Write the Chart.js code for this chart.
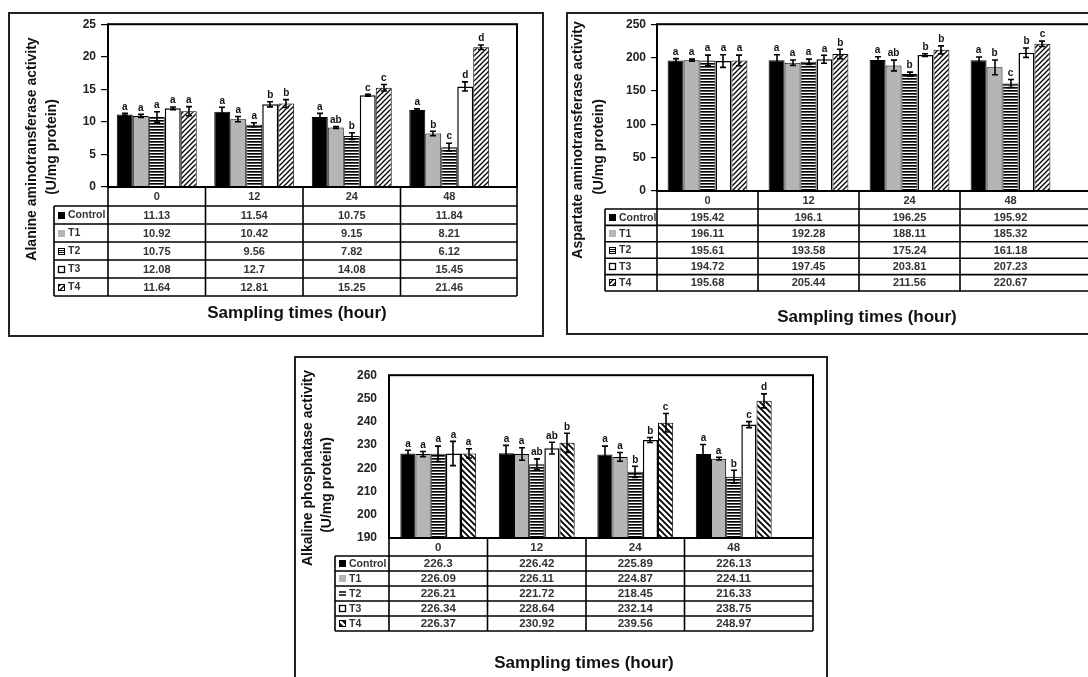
<!DOCTYPE html>
<html>
<head>
<meta charset="utf-8">
<title>Enzyme activity by sampling time</title>
<script src="https://cdn.jsdelivr.net/npm/chart.js@4.4.1/dist/chart.umd.min.js"></script>
<style>
	html, body { margin: 0; padding: 0; background: #fff; }
	body { position: relative; width: 1088px; height: 677px; overflow: hidden; }
	canvas { position: absolute; }
</style>
</head>
<body>
<canvas id="alt"></canvas>
<canvas id="ast"></canvas>
<canvas id="alp"></canvas>
<script>
// categories
var times = ['0', '12', '24', '48'];
var groups = ['Control', 'T1', 'T2', 'T3', 'T4'];

// Alanine aminotransferase activity (U/mg protein)
var altControl = [11.13, 11.54, 10.75, 11.84];
var altT1 = [10.92, 10.42, 9.15, 8.21];
var altT2 = [10.75, 9.56, 7.82, 6.12];
var altT3 = [12.08, 12.7, 14.08, 15.45];
var altT4 = [11.64, 12.81, 15.25, 21.46];
// one row per group, one value per sampling time
var altErr = [[0.17, 0.7, 0.55, 0.15], [0.23, 0.4, 0.15, 0.35], [0.8, 0.3, 0.5, 0.6], [0.2, 0.4, 0.15, 0.7], [0.7, 0.6, 0.5, 0.35]];
var altLetters = [['a', 'a', 'a', 'a'], ['a', 'a', 'ab', 'b'], ['a', 'a', 'b', 'c'], ['a', 'b', 'c', 'd'], ['a', 'b', 'c', 'd']];
var altTicks = [0, 5, 10, 15, 20, 25];

// Aspartate aminotransferase activity (U/mg protein)
var astControl = [195.42, 196.1, 196.25, 195.92];
var astT1 = [196.11, 192.28, 188.11, 185.32];
var astT2 = [195.61, 193.58, 175.24, 161.18];
var astT3 = [194.72, 197.45, 203.81, 207.23];
var astT4 = [195.68, 205.44, 211.56, 220.67];
var astErr = [[3, 8, 5, 5], [1.5, 4, 8, 11], [8, 4, 3, 6], [9.5, 6, 2, 7], [8, 7, 6, 4]];
var astLetters = [['a', 'a', 'a', 'a'], ['a', 'a', 'ab', 'b'], ['a', 'a', 'b', 'c'], ['a', 'a', 'b', 'b'], ['a', 'b', 'b', 'c']];
var astTicks = [0, 50, 100, 150, 200, 250];

// Alkaline phosphatase activity (U/mg protein)
var alpControl = [226.3, 226.42, 225.89, 226.13];
var alpT1 = [226.09, 226.11, 224.87, 224.11];
var alpT2 = [226.21, 221.72, 218.45, 216.33];
var alpT3 = [226.34, 228.64, 232.14, 238.75];
var alpT4 = [226.37, 230.92, 239.56, 248.97];
var alpErr = [[1.4, 3.4, 3.6, 4.1], [1.1, 2.7, 1.9, 0.6], [3.3, 2.3, 2.4, 2.8], [5.2, 2.5, 1.1, 1.3], [2, 4.1, 4, 3]];
var alpLetters = [['a', 'a', 'a', 'a'], ['a', 'a', 'a', 'a'], ['a', 'ab', 'b', 'b'], ['a', 'ab', 'b', 'c'], ['a', 'b', 'c', 'd']];
var alpTicks = [190, 200, 210, 220, 230, 240, 250, 260];

var FONT = '"Liberation Sans", Arial, sans-serif';

function stripes() {
	var c = document.createElement('canvas');
	c.width = 4; c.height = 3;
	var g = c.getContext('2d');
	g.fillStyle = '#fff'; g.fillRect(0, 0, 4, 3);
	g.fillStyle = '#000'; g.fillRect(0, 0, 4, 1);
	g.fillStyle = '#555'; g.fillRect(0, 1, 4, 1);
	return g.createPattern(c, 'repeat');
}

function hatch(dir, size, lw) {
	var c = document.createElement('canvas');
	c.width = size; c.height = size;
	var g = c.getContext('2d');
	g.fillStyle = '#fff'; g.fillRect(0, 0, size, size);
	g.strokeStyle = '#000'; g.lineWidth = lw;
	g.beginPath();
	if (dir == '/') {
		g.moveTo(-1, size + 1); g.lineTo(size + 1, -1);
		g.moveTo(-1, 1); g.lineTo(1, -1);
		g.moveTo(size - 1, size + 1); g.lineTo(size + 1, size - 1);
	} else {
		g.moveTo(-1, -1); g.lineTo(size + 1, size + 1);
		g.moveTo(size - 1, -1); g.lineTo(size + 1, 1);
		g.moveTo(-1, size - 1); g.lineTo(1, size + 1);
	}
	g.stroke();
	return g.createPattern(c, 'repeat');
}

function drawGlyph(ctx, kind, x, y, fill) {
	var s = 7;
	ctx.save();
	ctx.strokeStyle = '#000';
	ctx.lineWidth = 1;
	if (kind == 'fill') {
		ctx.fillStyle = fill;
		ctx.fillRect(x, y, s, s);
	} else if (kind == 'boxlines') {
		ctx.strokeRect(x + 0.5, y + 0.5, s - 1, s - 1);
		ctx.beginPath();
		ctx.moveTo(x, y + 2.5); ctx.lineTo(x + s, y + 2.5);
		ctx.moveTo(x, y + 4.5); ctx.lineTo(x + s, y + 4.5);
		ctx.stroke();
	} else if (kind == 'equals') {
		ctx.lineWidth = 1.4;
		ctx.beginPath();
		ctx.moveTo(x, y + 2); ctx.lineTo(x + s, y + 2);
		ctx.moveTo(x, y + 5); ctx.lineTo(x + s, y + 5);
		ctx.stroke();
	} else if (kind == 'box') {
		ctx.lineWidth = 1.3;
		ctx.strokeRect(x + 0.5, y + 0.5, s - 1, s - 1);
	} else {
		ctx.fillStyle = fill;
		ctx.fillRect(x, y, s, s);
		ctx.strokeRect(x + 0.5, y + 0.5, s - 1, s - 1);
	}
	ctx.restore();
}

var panelDecor = {
	id: 'panelDecor',
	beforeDraw: function(chart) {
		var ctx = chart.ctx;
		ctx.save();
		ctx.fillStyle = '#fff';
		ctx.fillRect(0, 0, chart.width, chart.height);
		ctx.strokeStyle = '#222';
		ctx.lineWidth = 2;
		ctx.strokeRect(1, 1, chart.width - 2, chart.height - 2);
		ctx.restore();
	},
	afterDatasetsDraw: function(chart) {
		var ctx = chart.ctx, ys = chart.scales.y;
		ctx.save();
		ctx.strokeStyle = '#000';
		ctx.fillStyle = '#111';
		ctx.lineWidth = 1.6;
		ctx.font = 'bold 10px ' + FONT;
		ctx.textAlign = 'center';
		ctx.textBaseline = 'bottom';
		chart.data.datasets.forEach(function(ds, di) {
			var meta = chart.getDatasetMeta(di);
			meta.data.forEach(function(bar, i) {
				var v = ds.data[i], e = ds.errors[i];
				var yt = ys.getPixelForValue(v + e), yb = ys.getPixelForValue(v - e);
				var x = Math.round(bar.x);
				ctx.beginPath();
				ctx.moveTo(x, yt); ctx.lineTo(x, yb);
				ctx.moveTo(x - 3, yt); ctx.lineTo(x + 3, yt);
				ctx.moveTo(x - 3, yb); ctx.lineTo(x + 3, yb);
				ctx.stroke();
				ctx.fillText(ds.letters[i], bar.x, yt - 1.5);
			});
		});
		ctx.restore();
	},
	afterDraw: function(chart, args, o) {
		var ctx = chart.ctx, a = chart.chartArea, xs = chart.scales.x;
		var top = a.bottom, hb = top + o.headerH, bottom = hb + 5 * o.rowH;
		var bounds = [a.left];
		for (var i = 1; i < chart.data.labels.length; i++) {
			bounds.push((xs.getPixelForValue(i - 1) + xs.getPixelForValue(i)) / 2);
		}
		bounds.push(o.right);

		ctx.save();
		// plot frame
		ctx.strokeStyle = '#000';
		ctx.lineWidth = 2;
		ctx.strokeRect(a.left, a.top, o.right - a.left, a.bottom - a.top);

		// data table
		ctx.lineWidth = 1.6;
		ctx.beginPath();
		for (var r = 0; r <= 5; r++) {
			var y = hb + r * o.rowH;
			ctx.moveTo(o.legendLeft, y); ctx.lineTo(o.right, y);
		}
		ctx.moveTo(o.legendLeft, hb); ctx.lineTo(o.legendLeft, bottom);
		bounds.forEach(function(b) {
			ctx.moveTo(b, top); ctx.lineTo(b, bottom);
		});
		ctx.stroke();

		ctx.fillStyle = '#333';
		ctx.font = o.cellFont;
		ctx.textAlign = 'center';
		ctx.textBaseline = 'middle';
		chart.data.labels.forEach(function(lab, i) {
			ctx.fillText(lab, xs.getPixelForValue(i), (top + hb) / 2 + 0.5);
		});
		chart.data.datasets.forEach(function(ds, di) {
			var cy = hb + (di + 0.5) * o.rowH + 0.5;
			ctx.font = o.cellFont;
			ctx.textAlign = 'center';
			ds.data.forEach(function(v, i) {
				ctx.fillText(String(v), xs.getPixelForValue(i), cy);
			});
			drawGlyph(ctx, o.glyphs[di], o.legendLeft + 4, Math.round(cy - 4), ds.backgroundColor);
			ctx.font = 'bold 10.5px ' + FONT;
			ctx.textAlign = 'left';
			ctx.fillText(ds.label, o.legendLeft + 14, cy);
		});

		// axis titles
		ctx.fillStyle = '#111';
		ctx.textAlign = 'center';
		ctx.font = 'bold 14px ' + FONT;
		o.yTitle.forEach(function(t) {
			ctx.save();
			ctx.translate(t.x, t.y);
			ctx.rotate(-Math.PI / 2);
			ctx.fillText(t.text, 0, 0);
			ctx.restore();
		});
		ctx.font = 'bold 17px ' + FONT;
		ctx.fillText(o.xTitle.text, o.xTitle.x, o.xTitle.y);
		ctx.restore();
	}
};

function buildPanel(id, p, series, errs, letters, ticks) {
	var fr = p.frame;
	var c = document.getElementById(id);
	c.width = fr.w; c.height = fr.h;
	c.style.left = fr.x + 'px';
	c.style.top = fr.y + 'px';
	c.style.width = fr.w + 'px';
	c.style.height = fr.h + 'px';

	var fills = ['#000', '#b5b5b5', stripes(), '#fff', hatch(p.hatchDir, p.hatchSize, p.hatchWidth)];
	var catRight = p.plotLeft + times.length * p.colW - fr.x;

	var datasets = series.map(function(data, i) {
		return {
			label: groups[i],
			data: data,
			errors: errs[i],
			letters: letters[i],
			backgroundColor: fills[i],
			borderColor: '#000',
			borderWidth: i == 3 ? 1.5 : 1,
			categoryPercentage: p.catPct,
			barPercentage: 1
		};
	});

	return new Chart(c, {
		type: 'bar',
		data: { labels: times, datasets: datasets },
		plugins: [panelDecor],
		options: {
			responsive: false,
			animation: false,
			events: [],
			layout: {
				padding: {
					left: 0,
					top: p.plotTop - fr.y,
					right: fr.w - catRight,
					bottom: fr.h - (p.plotBottom - fr.y)
				}
			},
			plugins: {
				legend: { display: false },
				tooltip: { enabled: false },
				panelDecor: {
					right: p.plotRight - fr.x,
					legendLeft: p.legendLeft - fr.x,
					headerH: p.headerH,
					rowH: p.rowH,
					cellFont: p.cellFont,
					glyphs: p.glyphs,
					yTitle: p.yTitle.map(function(t) { return { text: t.text, x: t.x - fr.x, y: t.y - fr.y }; }),
					xTitle: { text: 'Sampling times (hour)', x: p.xTitle.x - fr.x, y: p.xTitle.y - fr.y }
				}
			},
			scales: {
				x: { display: false },
				y: {
					min: ticks[0],
					max: ticks[ticks.length - 1],
					afterBuildTicks: function(s) {
						s.ticks = ticks.map(function(v) { return { value: v }; });
					},
					afterFit: function(s) { s.width = p.plotLeft - fr.x; },
					border: { display: false },
					grid: {
						drawOnChartArea: false,
						drawTicks: p.tickLength > 0,
						tickLength: p.tickLength,
						color: '#000',
						lineWidth: 1.2
					},
					ticks: {
						padding: p.tickPad,
						color: '#222',
						font: { family: FONT, size: 12, weight: 'bold' }
					}
				}
			}
		}
	});
}

buildPanel('alt', {
	frame: { x: 8, y: 12, w: 536, h: 325 },
	plotLeft: 108, plotTop: 24, plotBottom: 187, plotRight: 517, colW: 97.5,
	catPct: 0.82, legendLeft: 54, headerH: 19, rowH: 18,
	tickLength: 7, tickPad: 5,
	hatchDir: '/', hatchSize: 5, hatchWidth: 1.3,
	cellFont: 'bold 11px ' + FONT,
	glyphs: ['fill', 'fill', 'boxlines', 'box', 'hatchbox'],
	yTitle: [{ text: 'Alanine aminotransferase activity', x: 32, y: 149 }, { text: '(U/mg protein)', x: 52, y: 147 }],
	xTitle: { x: 297, y: 313 }
}, [altControl, altT1, altT2, altT3, altT4], altErr, altLetters, altTicks);

buildPanel('ast', {
	frame: { x: 566, y: 12, w: 560, h: 323 },
	plotLeft: 657, plotTop: 22, plotBottom: 191, plotRight: 1092, colW: 101,
	catPct: 0.79, legendLeft: 605, headerH: 18, rowH: 16.4,
	tickLength: 6, tickPad: 5,
	hatchDir: '/', hatchSize: 5, hatchWidth: 1.3,
	cellFont: 'bold 11px ' + FONT,
	glyphs: ['fill', 'fill', 'boxlines', 'box', 'hatchbox'],
	yTitle: [{ text: 'Aspartate aminotransferase activity', x: 578, y: 140 }, { text: '(U/mg protein)', x: 599, y: 147 }],
	xTitle: { x: 867, y: 317 }
}, [astControl, astT1, astT2, astT3, astT4], astErr, astLetters, astTicks);

buildPanel('alp', {
	frame: { x: 294, y: 356, w: 534, h: 340 },
	plotLeft: 389, plotTop: 368, plotBottom: 538, plotRight: 813, colW: 98.5,
	catPct: 0.77, legendLeft: 335, headerH: 18, rowH: 15,
	tickLength: 0, tickPad: 12,
	hatchDir: '\\', hatchSize: 6, hatchWidth: 1.8,
	cellFont: 'bold 11.5px ' + FONT,
	glyphs: ['fill', 'fill', 'equals', 'box', 'hatchbox'],
	yTitle: [{ text: 'Alkaline phosphatase activity', x: 308, y: 468 }, { text: '(U/mg protein)', x: 327, y: 485 }],
	xTitle: { x: 584, y: 663 }
}, [alpControl, alpT1, alpT2, alpT3, alpT4], alpErr, alpLetters, alpTicks);
</script>
</body>
</html>
